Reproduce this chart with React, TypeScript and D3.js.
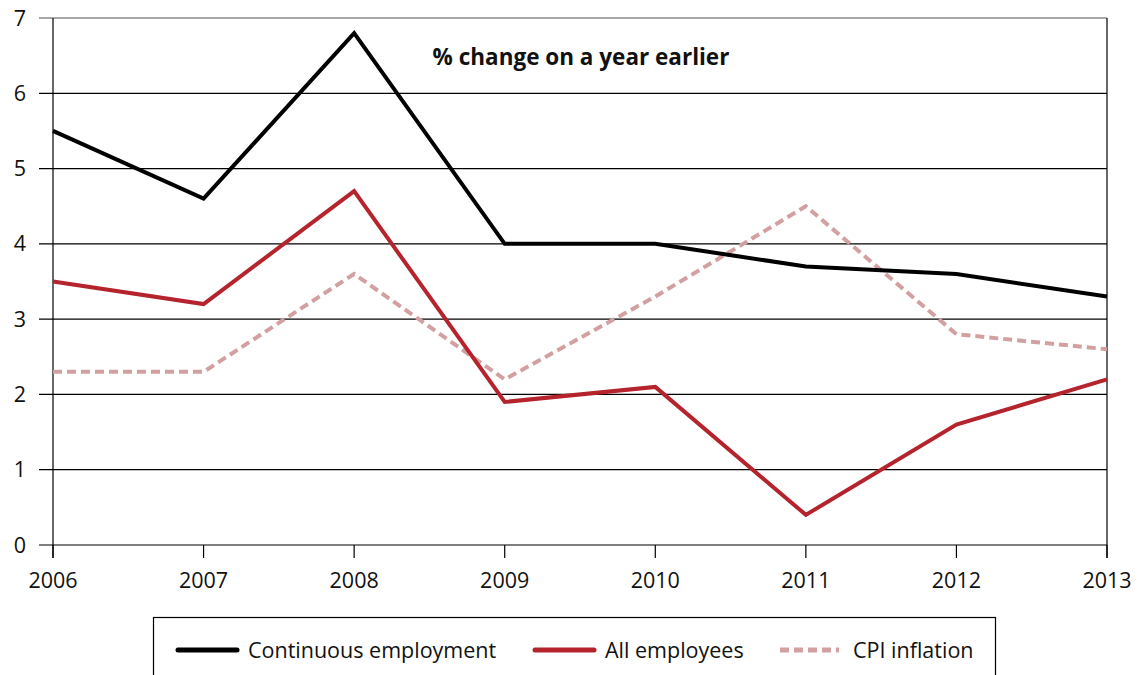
import React from "react";
import * as d3 from "d3";

const years = [2006, 2007, 2008, 2009, 2010, 2011, 2012, 2013];
const continuous = [5.5, 4.6, 6.8, 4.0, 4.0, 3.7, 3.6, 3.3];
const allEmployees = [3.5, 3.2, 4.7, 1.9, 2.1, 0.4, 1.6, 2.2];
const cpi = [2.3, 2.3, 3.6, 2.2, 3.3, 4.5, 2.8, 2.6];
const yTicks = [0, 1, 2, 3, 4, 5, 6, 7];

const W = 1142, H = 675;
const left = 53, right = 1107, top = 18, bottom = 545;
const font = "'Open Sans', 'Noto Sans', sans-serif";

export default function App() {
  const x = d3.scaleLinear().domain([2006, 2013]).range([left, right]);
  const y = d3.scaleLinear().domain([0, 7]).range([bottom, top]);
  const line = d3.line<number>().x((_, i) => x(years[i])).y((d) => y(d));
  const series = [
    { name: "Continuous employment", data: continuous, color: "#000000", dash: undefined, lx: 178, tx: 248 },
    { name: "All employees", data: allEmployees, color: "#b5232d", dash: undefined, lx: 535, tx: 605 },
    { name: "CPI inflation", data: cpi, color: "#d3a0a2", dash: "9,5", lx: 780, tx: 853 },
  ];
  return (
    <svg width={W} height={H} style={{ position: "absolute", left: 0, top: 0, background: "#fff" }}>
      {yTicks.map((t) => (
        <g key={t}>
          <line x1={39} x2={right} y1={y(t)} y2={y(t)} stroke={t === 7 ? "#555" : "#000"} strokeWidth={1.2} />
          <text x={20} y={y(t)} dy="0.35em" textAnchor="middle" fontFamily={font} fontSize={21.5} fill="#111">{t}</text>
        </g>
      ))}
      <line x1={left} x2={left} y1={top} y2={bottom + 13} stroke="#000" strokeWidth={1.2} />
      <line x1={right} x2={right} y1={top} y2={bottom + 13} stroke="#000" strokeWidth={1.2} />
      {years.map((yr) => (
        <g key={yr}>
          <line x1={x(yr)} x2={x(yr)} y1={bottom} y2={bottom + 13} stroke="#000" strokeWidth={1.2} />
          <text x={x(yr)} y={580} dy="0.35em" textAnchor="middle" fontFamily={font} fontSize={21.5} fill="#111">{yr}</text>
        </g>
      ))}
      <text x={581} y={57} dy="0.35em" textAnchor="middle" fontFamily={font} fontSize={22.5} fontWeight="bold" fill="#111">% change on a year earlier</text>
      {series.slice().reverse().map((s) => (
        <path key={s.name} d={line(s.data) || ""} fill="none" stroke={s.color} strokeWidth={4} strokeDasharray={s.dash} strokeLinejoin="miter" />
      ))}
      <rect x={153.5} y={617.5} width={842} height={70} fill="#fff" stroke="#000" strokeWidth={1.2} />
      {series.map((s) => (
        <g key={s.name}>
          <line x1={s.lx} x2={s.lx + 59} y1={650} y2={650} stroke={s.color} strokeWidth={5} strokeDasharray={s.dash} strokeLinecap={s.dash ? "butt" : "round"} />
          <text x={s.tx} y={650} dy="0.35em" fontFamily={font} fontSize={21.5} fill="#111">{s.name}</text>
        </g>
      ))}
    </svg>
  );
}
